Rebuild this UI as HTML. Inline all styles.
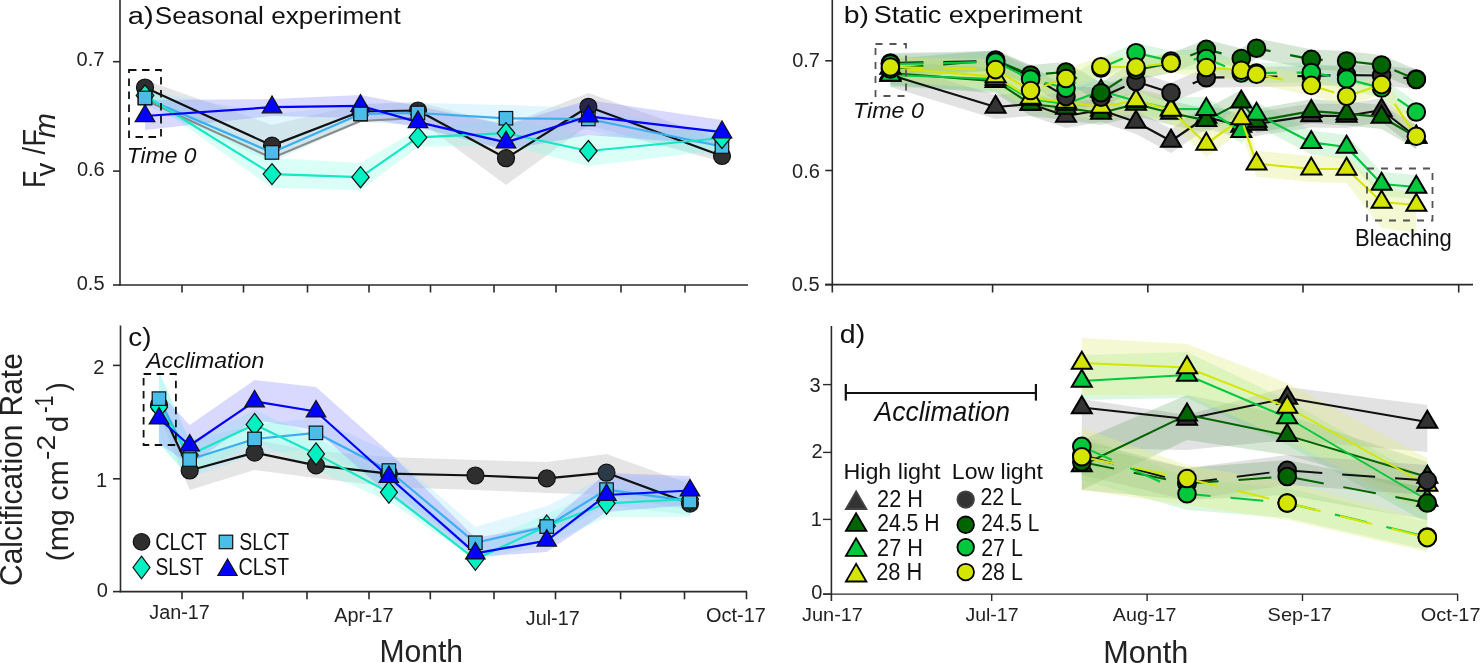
<!DOCTYPE html>
<html><head><meta charset="utf-8"><style>
html,body{margin:0;padding:0;background:#fff;width:1481px;height:663px;overflow:hidden}
svg{display:block;font-family:"Liberation Sans", sans-serif;will-change:transform}
</style></head><body>
<svg width="1481" height="663" viewBox="0 0 1481 663">
<rect width="1481" height="663" fill="#fff"/>
<polygon points="145.0,80.0 272.0,125.0 360.5,104.0 418.0,102.0 506.0,125.0 588.4,93.0 722.0,140.0 722.0,162.0 588.4,125.0 506.0,185.0 418.0,120.0 360.5,120.0 272.0,158.0 145.0,95.0" fill="#bdbdbd" fill-opacity="0.4"/>
<polygon points="145.0,90.0 272.0,114.0 360.5,105.0 418.0,103.0 506.0,105.0 588.4,108.0 722.0,135.0 722.0,158.0 588.4,130.0 506.0,130.0 418.0,125.0 360.5,122.0 272.0,162.0 145.0,105.0" fill="#a8e4fa" fill-opacity="0.35"/>
<polygon points="145.0,85.0 272.0,158.0 360.5,163.0 418.0,129.0 506.0,120.0 588.4,135.0 722.0,128.0 722.0,150.0 588.4,166.0 506.0,145.0 418.0,147.0 360.5,190.0 272.0,188.0 145.0,97.0" fill="#80ffe0" fill-opacity="0.3"/>
<polygon points="145.0,100.0 272.0,99.0 360.5,95.0 418.0,106.0 506.0,125.0 588.4,100.0 722.0,120.0 722.0,145.0 588.4,135.0 506.0,150.0 418.0,127.0 360.5,118.0 272.0,116.0 145.0,130.0" fill="#8f8fff" fill-opacity="0.34"/>
<polygon points="890.4,63.0 995.6,95.0 1030.6,92.0 1066.0,104.0 1101.0,98.0 1136.0,110.0 1171.0,129.0 1206.3,105.0 1241.3,114.0 1256.5,112.0 1311.3,103.6 1346.6,104.0 1381.6,98.0 1416.3,125.0 1416.3,149.0 1381.6,122.0 1346.6,128.0 1311.3,127.6 1256.5,136.0 1241.3,138.0 1206.3,129.0 1171.0,153.0 1136.0,134.0 1101.0,122.0 1066.0,128.0 1030.6,116.0 995.6,119.0 890.4,87.0" fill="#a0a0a0" fill-opacity="0.3"/>
<polygon points="890.4,61.0 995.6,69.2 1030.6,92.0 1066.0,96.0 1101.0,101.0 1136.0,92.0 1171.0,101.0 1206.3,108.4 1241.3,89.9 1256.5,109.0 1311.3,99.2 1346.6,101.6 1381.6,105.0 1416.3,125.0 1416.3,149.0 1381.6,129.0 1346.6,125.6 1311.3,123.2 1256.5,133.0 1241.3,113.9 1206.3,132.4 1171.0,125.0 1136.0,116.0 1101.0,125.0 1066.0,120.0 1030.6,116.0 995.6,93.2 890.4,85.0" fill="#3f8f3f" fill-opacity="0.22"/>
<polygon points="890.4,63.0 995.6,67.0 1030.6,87.0 1066.0,92.0 1101.0,79.0 1136.0,89.0 1171.0,97.0 1206.3,97.2 1241.3,119.2 1256.5,102.0 1311.3,130.4 1346.6,135.0 1381.6,172.0 1416.3,175.0 1416.3,199.0 1381.6,196.0 1346.6,159.0 1311.3,154.4 1256.5,126.0 1241.3,143.2 1206.3,121.2 1171.0,121.0 1136.0,113.0 1101.0,103.0 1066.0,116.0 1030.6,111.0 995.6,91.0 890.4,87.0" fill="#5fdc78" fill-opacity="0.22"/>
<polygon points="890.4,55.0 995.6,63.6 1030.6,85.0 1066.0,89.0 1101.0,94.0 1136.0,87.5 1171.0,97.0 1206.3,131.0 1241.3,105.5 1256.5,150.7 1311.3,155.9 1346.6,156.0 1381.6,189.0 1416.3,192.0 1416.3,233.0 1381.6,228.0 1346.6,183.0 1311.3,181.9 1256.5,176.7 1241.3,131.5 1206.3,157.0 1171.0,123.0 1136.0,113.5 1101.0,120.0 1066.0,115.0 1030.6,111.0 995.6,89.6 890.4,81.0" fill="#e2ee80" fill-opacity="0.35"/>
<polygon points="890.4,53.0 995.6,51.0 1030.6,66.0 1066.0,86.6 1101.0,87.3 1136.0,71.5 1171.0,82.8 1206.3,67.7 1311.3,66.0 1346.6,65.0 1381.6,65.5 1416.3,69.0 1416.3,89.0 1381.6,85.5 1346.6,85.0 1311.3,86.0 1206.3,87.7 1171.0,102.8 1136.0,91.5 1101.0,107.3 1066.0,106.6 1030.6,86.0 995.6,71.0 890.4,73.0" fill="#a0a0a0" fill-opacity="0.3"/>
<polygon points="890.4,59.0 995.6,50.0 1030.6,65.0 1066.0,62.0 1101.0,82.8 1136.0,60.0 1171.0,53.0 1206.3,39.4 1241.3,48.5 1256.5,38.3 1311.3,49.4 1346.6,51.0 1381.6,55.0 1416.3,69.5 1416.3,89.5 1381.6,75.0 1346.6,71.0 1311.3,69.4 1256.5,58.3 1241.3,68.5 1206.3,59.4 1171.0,73.0 1136.0,80.0 1101.0,102.8 1066.0,82.0 1030.6,85.0 995.6,70.0 890.4,79.0" fill="#3f8f3f" fill-opacity="0.22"/>
<polygon points="890.4,54.0 995.6,52.0 1030.6,69.0 1066.0,78.3 1101.0,58.0 1136.0,42.8 1171.0,51.0 1206.3,48.5 1241.3,63.0 1256.5,63.0 1311.3,62.5 1346.6,69.0 1381.6,78.0 1416.3,102.0 1416.3,122.0 1381.6,98.0 1346.6,89.0 1311.3,82.5 1256.5,83.0 1241.3,83.0 1206.3,68.5 1171.0,71.0 1136.0,62.8 1101.0,78.0 1066.0,98.3 1030.6,89.0 995.6,72.0 890.4,74.0" fill="#5fdc78" fill-opacity="0.22"/>
<polygon points="890.4,57.0 995.6,59.6 1030.6,80.5 1066.0,68.5 1101.0,56.8 1136.0,57.1 1171.0,53.0 1206.3,57.5 1241.3,60.2 1256.5,64.3 1311.3,75.4 1346.6,86.3 1381.6,74.6 1416.3,126.2 1416.3,146.2 1381.6,94.6 1346.6,106.3 1311.3,95.4 1256.5,84.3 1241.3,80.2 1206.3,77.5 1171.0,73.0 1136.0,77.1 1101.0,76.8 1066.0,88.5 1030.6,100.5 995.6,79.6 890.4,77.0" fill="#e2ee80" fill-opacity="0.35"/>
<polygon points="159.0,395.0 189.7,458.0 254.6,440.0 316.0,451.0 388.9,457.0 475.4,460.0 546.8,462.0 606.5,454.0 690.0,484.0 690.0,510.0 606.5,495.0 546.8,493.0 475.4,490.0 388.9,487.0 316.0,478.0 254.6,470.0 189.7,490.0 159.0,415.0" fill="#bdbdbd" fill-opacity="0.4"/>
<polygon points="159.0,372.0 189.7,440.0 254.6,425.0 316.0,418.0 388.9,452.0 475.4,527.0 546.8,506.0 606.5,476.0 690.0,479.0 690.0,515.0 606.5,505.0 546.8,540.0 475.4,555.0 388.9,487.0 316.0,448.0 254.6,455.0 189.7,478.0 159.0,443.0" fill="#a8e4fa" fill-opacity="0.35"/>
<polygon points="159.0,372.0 189.7,442.0 254.6,410.0 316.0,438.0 388.9,476.0 475.4,545.0 546.8,514.0 606.5,488.0 690.0,490.0 690.0,517.0 606.5,517.0 546.8,545.0 475.4,560.0 388.9,501.0 316.0,470.0 254.6,440.0 189.7,478.0 159.0,443.0" fill="#80ffe0" fill-opacity="0.3"/>
<polygon points="159.0,392.0 189.7,425.0 254.6,380.0 316.0,387.0 388.9,452.0 475.4,538.0 546.8,525.0 606.5,473.0 690.0,476.0 690.0,505.0 606.5,512.0 546.8,552.0 475.4,557.0 388.9,495.0 316.0,430.0 254.6,420.0 189.7,465.0 159.0,443.0" fill="#8f8fff" fill-opacity="0.34"/>
<polygon points="1081.8,399.0 1187.0,415.0 1287.2,387.0 1427.3,405.0 1427.3,452.0 1287.2,440.0 1187.0,450.0 1081.8,448.0" fill="#a0a0a0" fill-opacity="0.3"/>
<polygon points="1081.8,440.0 1187.0,395.0 1287.2,415.0 1427.3,462.0 1427.3,495.0 1287.2,455.0 1187.0,440.0 1081.8,490.0" fill="#3f8f3f" fill-opacity="0.22"/>
<polygon points="1081.8,355.0 1187.0,352.0 1287.2,400.0 1427.3,480.0 1427.3,523.0 1287.2,445.0 1187.0,398.0 1081.8,400.0" fill="#5fdc78" fill-opacity="0.22"/>
<polygon points="1081.8,338.0 1187.0,344.0 1287.2,383.0 1427.3,458.0 1427.3,515.0 1287.2,440.0 1187.0,395.0 1081.8,395.0" fill="#e2ee80" fill-opacity="0.35"/>
<polygon points="1081.8,445.0 1187.0,468.0 1287.2,455.0 1427.3,465.0 1427.3,495.0 1287.2,485.0 1187.0,500.0 1081.8,475.0" fill="#a0a0a0" fill-opacity="0.3"/>
<polygon points="1081.8,440.0 1187.0,468.0 1287.2,460.0 1427.3,488.0 1427.3,520.0 1287.2,495.0 1187.0,500.0 1081.8,490.0" fill="#3f8f3f" fill-opacity="0.22"/>
<polygon points="1081.8,435.0 1187.0,478.0 1287.2,488.0 1427.3,522.0 1427.3,550.0 1287.2,518.0 1187.0,510.0 1081.8,480.0" fill="#5fdc78" fill-opacity="0.22"/>
<polygon points="1081.8,428.0 1187.0,465.0 1287.2,482.0 1427.3,520.0 1427.3,552.0 1287.2,520.0 1187.0,505.0 1081.8,490.0" fill="#e2ee80" fill-opacity="0.35"/>
<polyline points="145.0,100.0 272.0,158.0 360.5,121.0 418.0,118.0" fill="none" stroke="#8a8a8a" stroke-width="2" stroke-linejoin="round"/>
<polyline points="145.0,87.5 272.0,145.6 360.5,111.5 418.0,110.5 506.0,158.2 588.4,106.8 722.0,156.0" fill="none" stroke="#111" stroke-width="2.2" stroke-linejoin="round"/>
<circle cx="145" cy="87.5" r="8.5" fill="#2e2e2e" stroke="#111" stroke-width="1.2"/>
<circle cx="272" cy="145.6" r="8.5" fill="#2e2e2e" stroke="#111" stroke-width="1.2"/>
<circle cx="360.5" cy="111.5" r="8.5" fill="#2e2e2e" stroke="#111" stroke-width="1.2"/>
<circle cx="418" cy="110.5" r="8.5" fill="#2e2e2e" stroke="#111" stroke-width="1.2"/>
<circle cx="506" cy="158.2" r="8.5" fill="#2e2e2e" stroke="#111" stroke-width="1.2"/>
<circle cx="588.4" cy="106.8" r="8.5" fill="#26264c" stroke="#111" stroke-width="1.2"/>
<circle cx="722" cy="156" r="8.5" fill="#2e2e2e" stroke="#111" stroke-width="1.2"/>
<polyline points="145.0,98.0 272.0,152.4 360.5,113.9 418.0,113.0 506.0,118.3 588.4,119.0 722.0,146.5" fill="none" stroke="#3aaef0" stroke-width="2.2" stroke-linejoin="round"/>
<rect x="138.2" y="91.2" width="13.5" height="13.5" fill="#4cbde9" stroke="#111" stroke-width="1.2"/>
<rect x="265.2" y="145.7" width="13.5" height="13.5" fill="#4cbde9" stroke="#111" stroke-width="1.2"/>
<rect x="353.8" y="107.2" width="13.5" height="13.5" fill="#4cbde9" stroke="#111" stroke-width="1.2"/>
<rect x="411.2" y="106.2" width="13.5" height="13.5" fill="#4cbde9" stroke="#111" stroke-width="1.2"/>
<rect x="499.2" y="111.5" width="13.5" height="13.5" fill="#4cbde9" stroke="#111" stroke-width="1.2"/>
<rect x="581.6" y="112.2" width="13.5" height="13.5" fill="#4cbde9" stroke="#111" stroke-width="1.2"/>
<rect x="715.2" y="139.8" width="13.5" height="13.5" fill="#4cbde9" stroke="#111" stroke-width="1.2"/>
<polyline points="145.0,95.5 272.0,174.1 360.5,177.2 418.0,137.4 506.0,133.1 588.4,151.0 722.0,138.0" fill="none" stroke="#14e8c4" stroke-width="2.2" stroke-linejoin="round"/>
<polygon points="145.0,85.0 153.8,95.5 145.0,106.0 136.2,95.5" fill="#00f2c3" stroke="#111" stroke-width="1.2"/>
<polygon points="272.0,163.6 280.8,174.1 272.0,184.6 263.2,174.1" fill="#00f2c3" stroke="#111" stroke-width="1.2"/>
<polygon points="360.5,166.7 369.2,177.2 360.5,187.7 351.8,177.2" fill="#00f2c3" stroke="#111" stroke-width="1.2"/>
<polygon points="418.0,126.9 426.8,137.4 418.0,147.9 409.2,137.4" fill="#00f2c3" stroke="#111" stroke-width="1.2"/>
<polygon points="506.0,122.6 514.8,133.1 506.0,143.6 497.2,133.1" fill="#00f2c3" stroke="#111" stroke-width="1.2"/>
<polygon points="588.4,140.5 597.1,151.0 588.4,161.5 579.6,151.0" fill="#00f2c3" stroke="#111" stroke-width="1.2"/>
<polygon points="722.0,127.5 730.8,138.0 722.0,148.5 713.2,138.0" fill="#00f2c3" stroke="#111" stroke-width="1.2"/>
<polyline points="145.0,116.0 272.0,107.2 360.5,105.8 418.0,122.1 506.0,142.4 588.4,116.3 722.0,132.2" fill="none" stroke="#0000ff" stroke-width="2.2" stroke-linejoin="round"/>
<polygon points="272.0,96.0 262.2,112.8 281.8,112.8" fill="#0000ff" stroke="#111" stroke-width="1.2" stroke-linejoin="miter"/>
<polygon points="360.5,94.6 350.8,111.4 370.2,111.4" fill="#0000ff" stroke="#111" stroke-width="1.2" stroke-linejoin="miter"/>
<polygon points="418.0,110.9 408.2,127.7 427.8,127.7" fill="#0000ff" stroke="#111" stroke-width="1.2" stroke-linejoin="miter"/>
<polygon points="506.0,131.2 496.2,148.0 515.8,148.0" fill="#0000ff" stroke="#111" stroke-width="1.2" stroke-linejoin="miter"/>
<polygon points="588.4,105.1 578.6,121.9 598.1,121.9" fill="#0000ff" stroke="#111" stroke-width="1.2" stroke-linejoin="miter"/>
<polygon points="722.0,121.0 712.2,137.8 731.8,137.8" fill="#0000ff" stroke="#111" stroke-width="1.2" stroke-linejoin="miter"/>
<rect x="138.2" y="91.2" width="13.5" height="13.5" fill="#4cbde9" stroke="#111" stroke-width="1.2"/>
<polygon points="145.0,104.8 135.2,121.6 154.8,121.6" fill="#0000ff" stroke="#111" stroke-width="1.2" stroke-linejoin="miter"/>
<rect x="353.8" y="107.2" width="13.5" height="13.5" fill="#4cbde9" stroke="#111" stroke-width="1.2"/>
<rect x="129" y="70" width="32" height="67" fill="none" stroke="#111" stroke-width="1.8" stroke-dasharray="7.5,5.5"/>
<text transform="translate(126.85,163.10) scale(1.0202,1)" font-size="22.4" fill="#111" font-style="italic">Time 0</text>
<line x1="120" y1="0" x2="120" y2="285.5" stroke="#2a2a2a" stroke-width="1.6" />
<line x1="119.2" y1="285" x2="748" y2="285" stroke="#2a2a2a" stroke-width="1.6" />
<line x1="113" y1="61.7" x2="120" y2="61.7" stroke="#2a2a2a" stroke-width="1.6" />
<text x="76.60" y="66.20" font-size="20" fill="#222">0.7</text>
<line x1="113" y1="171.1" x2="120" y2="171.1" stroke="#2a2a2a" stroke-width="1.6" />
<text x="76.88" y="176.30" font-size="20" fill="#222">0.6</text>
<line x1="113" y1="285" x2="120" y2="285" stroke="#2a2a2a" stroke-width="1.6" />
<text x="76.74" y="289.50" font-size="20" fill="#222">0.5</text>
<line x1="182" y1="285" x2="182" y2="292.5" stroke="#2a2a2a" stroke-width="1.6" />
<line x1="243.5" y1="285" x2="243.5" y2="292.5" stroke="#2a2a2a" stroke-width="1.6" />
<line x1="307.5" y1="285" x2="307.5" y2="292.5" stroke="#2a2a2a" stroke-width="1.6" />
<line x1="369" y1="285" x2="369" y2="292.5" stroke="#2a2a2a" stroke-width="1.6" />
<line x1="430.5" y1="285" x2="430.5" y2="292.5" stroke="#2a2a2a" stroke-width="1.6" />
<line x1="494" y1="285" x2="494" y2="292.5" stroke="#2a2a2a" stroke-width="1.6" />
<line x1="556" y1="285" x2="556" y2="292.5" stroke="#2a2a2a" stroke-width="1.6" />
<line x1="621" y1="285" x2="621" y2="292.5" stroke="#2a2a2a" stroke-width="1.6" />
<line x1="685" y1="285" x2="685" y2="292.5" stroke="#2a2a2a" stroke-width="1.6" />
<text transform="translate(127.86,23.90) scale(1.1912,1)" font-size="24.5" fill="#111">a)</text>
<text transform="translate(154.81,23.90) scale(1.0771,1)" font-size="24.3" fill="#111">Seasonal experiment</text>
<text transform="translate(44.90,188.18) rotate(-90) scale(0.9463,1)" font-size="30.7" fill="#222">F</text>
<text transform="translate(55.10,176.39) rotate(-90) scale(0.9710,1)" font-size="28.4" fill="#222">v</text>
<text transform="translate(44.60,154.60) rotate(-90) scale(0.8793,1)" font-size="30.7" fill="#222">/</text>
<text transform="translate(44.90,146.80) rotate(-90) scale(0.9530,1)" font-size="30.7" fill="#222">F</text>
<text transform="translate(55.10,138.10) rotate(-90) scale(1.0169,1)" font-size="29.5" fill="#222" font-style="italic">m</text>
<polyline points="890.4,75.0 995.6,107.0 1030.6,104.0 1066.0,116.0 1101.0,110.0 1136.0,122.0 1171.0,141.0 1206.3,117.0 1241.3,126.0 1256.5,124.0 1311.3,115.6 1346.6,116.0 1381.6,110.0 1416.3,137.0" fill="none" stroke="#111" stroke-width="2.2" stroke-linejoin="round"/>
<polygon points="890.4,63.7 880.4,80.7 900.4,80.7" fill="#333333" stroke="#000" stroke-width="2" stroke-linejoin="miter"/>
<polygon points="995.6,95.7 985.6,112.7 1005.6,112.7" fill="#333333" stroke="#000" stroke-width="2" stroke-linejoin="miter"/>
<polygon points="1030.6,92.7 1020.6,109.7 1040.6,109.7" fill="#333333" stroke="#000" stroke-width="2" stroke-linejoin="miter"/>
<polygon points="1066.0,104.7 1056.0,121.7 1076.0,121.7" fill="#333333" stroke="#000" stroke-width="2" stroke-linejoin="miter"/>
<polygon points="1101.0,98.7 1091.0,115.7 1111.0,115.7" fill="#333333" stroke="#000" stroke-width="2" stroke-linejoin="miter"/>
<polygon points="1136.0,110.7 1126.0,127.7 1146.0,127.7" fill="#333333" stroke="#000" stroke-width="2" stroke-linejoin="miter"/>
<polygon points="1171.0,129.7 1161.0,146.7 1181.0,146.7" fill="#333333" stroke="#000" stroke-width="2" stroke-linejoin="miter"/>
<polygon points="1206.3,105.7 1196.3,122.7 1216.3,122.7" fill="#333333" stroke="#000" stroke-width="2" stroke-linejoin="miter"/>
<polygon points="1241.3,114.7 1231.3,131.7 1251.3,131.7" fill="#333333" stroke="#000" stroke-width="2" stroke-linejoin="miter"/>
<polygon points="1256.5,112.7 1246.5,129.7 1266.5,129.7" fill="#333333" stroke="#000" stroke-width="2" stroke-linejoin="miter"/>
<polygon points="1311.3,104.3 1301.3,121.3 1321.3,121.3" fill="#333333" stroke="#000" stroke-width="2" stroke-linejoin="miter"/>
<polygon points="1346.6,104.7 1336.6,121.7 1356.6,121.7" fill="#333333" stroke="#000" stroke-width="2" stroke-linejoin="miter"/>
<polygon points="1381.6,98.7 1371.6,115.7 1391.6,115.7" fill="#333333" stroke="#000" stroke-width="2" stroke-linejoin="miter"/>
<polygon points="1416.3,125.7 1406.3,142.7 1426.3,142.7" fill="#333333" stroke="#000" stroke-width="2" stroke-linejoin="miter"/>
<polyline points="890.4,73.0 995.6,81.2 1030.6,104.0 1066.0,108.0 1101.0,113.0 1136.0,104.0 1171.0,113.0 1206.3,120.4 1241.3,101.9 1256.5,121.0 1311.3,111.2 1346.6,113.6 1381.6,117.0 1416.3,137.0" fill="none" stroke="#006400" stroke-width="2.2" stroke-linejoin="round"/>
<polygon points="890.4,61.7 880.4,78.7 900.4,78.7" fill="#006400" stroke="#000" stroke-width="2" stroke-linejoin="miter"/>
<polygon points="995.6,69.9 985.6,86.9 1005.6,86.9" fill="#006400" stroke="#000" stroke-width="2" stroke-linejoin="miter"/>
<polygon points="1030.6,92.7 1020.6,109.7 1040.6,109.7" fill="#006400" stroke="#000" stroke-width="2" stroke-linejoin="miter"/>
<polygon points="1066.0,96.7 1056.0,113.7 1076.0,113.7" fill="#006400" stroke="#000" stroke-width="2" stroke-linejoin="miter"/>
<polygon points="1101.0,101.7 1091.0,118.7 1111.0,118.7" fill="#006400" stroke="#000" stroke-width="2" stroke-linejoin="miter"/>
<polygon points="1136.0,92.7 1126.0,109.7 1146.0,109.7" fill="#006400" stroke="#000" stroke-width="2" stroke-linejoin="miter"/>
<polygon points="1171.0,101.7 1161.0,118.7 1181.0,118.7" fill="#006400" stroke="#000" stroke-width="2" stroke-linejoin="miter"/>
<polygon points="1206.3,109.1 1196.3,126.1 1216.3,126.1" fill="#006400" stroke="#000" stroke-width="2" stroke-linejoin="miter"/>
<polygon points="1241.3,90.6 1231.3,107.6 1251.3,107.6" fill="#006400" stroke="#000" stroke-width="2" stroke-linejoin="miter"/>
<polygon points="1256.5,109.7 1246.5,126.7 1266.5,126.7" fill="#006400" stroke="#000" stroke-width="2" stroke-linejoin="miter"/>
<polygon points="1311.3,99.9 1301.3,116.9 1321.3,116.9" fill="#006400" stroke="#000" stroke-width="2" stroke-linejoin="miter"/>
<polygon points="1346.6,102.3 1336.6,119.3 1356.6,119.3" fill="#006400" stroke="#000" stroke-width="2" stroke-linejoin="miter"/>
<polygon points="1381.6,105.7 1371.6,122.7 1391.6,122.7" fill="#006400" stroke="#000" stroke-width="2" stroke-linejoin="miter"/>
<polygon points="1416.3,125.7 1406.3,142.7 1426.3,142.7" fill="#006400" stroke="#000" stroke-width="2" stroke-linejoin="miter"/>
<polyline points="890.4,75.0 995.6,79.0 1030.6,99.0 1066.0,104.0 1101.0,91.0 1136.0,101.0 1171.0,109.0 1206.3,109.2 1241.3,131.2 1256.5,114.0 1311.3,142.4 1346.6,147.0 1381.6,184.0 1416.3,187.0" fill="none" stroke="#00c83c" stroke-width="2.2" stroke-linejoin="round"/>
<polygon points="890.4,63.7 880.4,80.7 900.4,80.7" fill="#00c83c" stroke="#000" stroke-width="2" stroke-linejoin="miter"/>
<polygon points="995.6,67.7 985.6,84.7 1005.6,84.7" fill="#00c83c" stroke="#000" stroke-width="2" stroke-linejoin="miter"/>
<polygon points="1030.6,87.7 1020.6,104.7 1040.6,104.7" fill="#00c83c" stroke="#000" stroke-width="2" stroke-linejoin="miter"/>
<polygon points="1066.0,92.7 1056.0,109.7 1076.0,109.7" fill="#00c83c" stroke="#000" stroke-width="2" stroke-linejoin="miter"/>
<polygon points="1101.0,79.7 1091.0,96.7 1111.0,96.7" fill="#00c83c" stroke="#000" stroke-width="2" stroke-linejoin="miter"/>
<polygon points="1136.0,89.7 1126.0,106.7 1146.0,106.7" fill="#00c83c" stroke="#000" stroke-width="2" stroke-linejoin="miter"/>
<polygon points="1171.0,97.7 1161.0,114.7 1181.0,114.7" fill="#00c83c" stroke="#000" stroke-width="2" stroke-linejoin="miter"/>
<polygon points="1206.3,97.9 1196.3,114.9 1216.3,114.9" fill="#00c83c" stroke="#000" stroke-width="2" stroke-linejoin="miter"/>
<polygon points="1241.3,119.9 1231.3,136.9 1251.3,136.9" fill="#00c83c" stroke="#000" stroke-width="2" stroke-linejoin="miter"/>
<polygon points="1256.5,102.7 1246.5,119.7 1266.5,119.7" fill="#00c83c" stroke="#000" stroke-width="2" stroke-linejoin="miter"/>
<polygon points="1311.3,131.1 1301.3,148.1 1321.3,148.1" fill="#00c83c" stroke="#000" stroke-width="2" stroke-linejoin="miter"/>
<polygon points="1346.6,135.7 1336.6,152.7 1356.6,152.7" fill="#00c83c" stroke="#000" stroke-width="2" stroke-linejoin="miter"/>
<polygon points="1381.6,172.7 1371.6,189.7 1391.6,189.7" fill="#00c83c" stroke="#000" stroke-width="2" stroke-linejoin="miter"/>
<polygon points="1416.3,175.7 1406.3,192.7 1426.3,192.7" fill="#00c83c" stroke="#000" stroke-width="2" stroke-linejoin="miter"/>
<polyline points="890.4,68.0 995.6,76.6 1030.6,98.0 1066.0,102.0 1101.0,107.0 1136.0,100.5 1171.0,110.0 1206.3,144.0 1241.3,118.5 1256.5,163.7 1311.3,168.9 1346.6,169.0 1381.6,202.0 1416.3,205.0" fill="none" stroke="#d4e600" stroke-width="2.2" stroke-linejoin="round"/>
<polygon points="890.4,56.7 880.4,73.7 900.4,73.7" fill="#d4e600" stroke="#000" stroke-width="2" stroke-linejoin="miter"/>
<polygon points="995.6,65.3 985.6,82.3 1005.6,82.3" fill="#d4e600" stroke="#000" stroke-width="2" stroke-linejoin="miter"/>
<polygon points="1030.6,86.7 1020.6,103.7 1040.6,103.7" fill="#d4e600" stroke="#000" stroke-width="2" stroke-linejoin="miter"/>
<polygon points="1066.0,90.7 1056.0,107.7 1076.0,107.7" fill="#d4e600" stroke="#000" stroke-width="2" stroke-linejoin="miter"/>
<polygon points="1101.0,95.7 1091.0,112.7 1111.0,112.7" fill="#d4e600" stroke="#000" stroke-width="2" stroke-linejoin="miter"/>
<polygon points="1136.0,89.2 1126.0,106.2 1146.0,106.2" fill="#d4e600" stroke="#000" stroke-width="2" stroke-linejoin="miter"/>
<polygon points="1171.0,98.7 1161.0,115.7 1181.0,115.7" fill="#d4e600" stroke="#000" stroke-width="2" stroke-linejoin="miter"/>
<polygon points="1206.3,132.7 1196.3,149.7 1216.3,149.7" fill="#d4e600" stroke="#000" stroke-width="2" stroke-linejoin="miter"/>
<polygon points="1241.3,107.2 1231.3,124.2 1251.3,124.2" fill="#d4e600" stroke="#000" stroke-width="2" stroke-linejoin="miter"/>
<polygon points="1256.5,152.4 1246.5,169.4 1266.5,169.4" fill="#d4e600" stroke="#000" stroke-width="2" stroke-linejoin="miter"/>
<polygon points="1311.3,157.6 1301.3,174.6 1321.3,174.6" fill="#d4e600" stroke="#000" stroke-width="2" stroke-linejoin="miter"/>
<polygon points="1346.6,157.7 1336.6,174.7 1356.6,174.7" fill="#d4e600" stroke="#000" stroke-width="2" stroke-linejoin="miter"/>
<polygon points="1381.6,190.7 1371.6,207.7 1391.6,207.7" fill="#d4e600" stroke="#000" stroke-width="2" stroke-linejoin="miter"/>
<polygon points="1416.3,193.7 1406.3,210.7 1426.3,210.7" fill="#d4e600" stroke="#000" stroke-width="2" stroke-linejoin="miter"/>
<polyline points="890.4,63.0 995.6,61.0 1030.6,76.0 1066.0,96.6 1101.0,97.3 1136.0,81.5 1171.0,92.8 1206.3,77.7 1311.3,76.0 1346.6,75.0 1381.6,75.5 1416.3,79.0" fill="none" stroke="#111" stroke-width="2.2" stroke-linejoin="round" stroke-dasharray="33,20"/>
<circle cx="890.4" cy="63" r="8.8" fill="#333333" stroke="#000" stroke-width="2"/>
<circle cx="995.6" cy="61" r="8.8" fill="#333333" stroke="#000" stroke-width="2"/>
<circle cx="1030.6" cy="76" r="8.8" fill="#333333" stroke="#000" stroke-width="2"/>
<circle cx="1066" cy="96.6" r="8.8" fill="#333333" stroke="#000" stroke-width="2"/>
<circle cx="1101" cy="97.3" r="8.8" fill="#333333" stroke="#000" stroke-width="2"/>
<circle cx="1136" cy="81.5" r="8.8" fill="#333333" stroke="#000" stroke-width="2"/>
<circle cx="1171" cy="92.8" r="8.8" fill="#333333" stroke="#000" stroke-width="2"/>
<circle cx="1206.3" cy="77.7" r="8.8" fill="#333333" stroke="#000" stroke-width="2"/>
<circle cx="1311.3" cy="76" r="8.8" fill="#333333" stroke="#000" stroke-width="2"/>
<circle cx="1346.6" cy="75" r="8.8" fill="#333333" stroke="#000" stroke-width="2"/>
<circle cx="1381.6" cy="75.5" r="8.8" fill="#333333" stroke="#000" stroke-width="2"/>
<circle cx="1416.3" cy="79" r="8.8" fill="#333333" stroke="#000" stroke-width="2"/>
<polyline points="890.4,69.0 995.6,60.0 1030.6,75.0 1066.0,72.0 1101.0,92.8 1136.0,70.0 1171.0,63.0 1206.3,49.4 1241.3,58.5 1256.5,48.3 1311.3,59.4 1346.6,61.0 1381.6,65.0 1416.3,79.5" fill="none" stroke="#006400" stroke-width="2.2" stroke-linejoin="round" stroke-dasharray="33,20"/>
<circle cx="890.4" cy="69" r="8.8" fill="#006400" stroke="#000" stroke-width="2"/>
<circle cx="995.6" cy="60" r="8.8" fill="#006400" stroke="#000" stroke-width="2"/>
<circle cx="1030.6" cy="75" r="8.8" fill="#006400" stroke="#000" stroke-width="2"/>
<circle cx="1066" cy="72" r="8.8" fill="#006400" stroke="#000" stroke-width="2"/>
<circle cx="1101" cy="92.8" r="8.8" fill="#006400" stroke="#000" stroke-width="2"/>
<circle cx="1136" cy="70" r="8.8" fill="#006400" stroke="#000" stroke-width="2"/>
<circle cx="1171" cy="63" r="8.8" fill="#006400" stroke="#000" stroke-width="2"/>
<circle cx="1206.3" cy="49.4" r="8.8" fill="#006400" stroke="#000" stroke-width="2"/>
<circle cx="1241.3" cy="58.5" r="8.8" fill="#006400" stroke="#000" stroke-width="2"/>
<circle cx="1256.5" cy="48.3" r="8.8" fill="#006400" stroke="#000" stroke-width="2"/>
<circle cx="1311.3" cy="59.4" r="8.8" fill="#006400" stroke="#000" stroke-width="2"/>
<circle cx="1346.6" cy="61" r="8.8" fill="#006400" stroke="#000" stroke-width="2"/>
<circle cx="1381.6" cy="65" r="8.8" fill="#006400" stroke="#000" stroke-width="2"/>
<circle cx="1416.3" cy="79.5" r="8.8" fill="#006400" stroke="#000" stroke-width="2"/>
<polyline points="890.4,64.0 995.6,62.0 1030.6,79.0 1066.0,88.3 1101.0,68.0 1136.0,52.8 1171.0,61.0 1206.3,58.5 1241.3,73.0 1256.5,73.0 1311.3,72.5 1346.6,79.0 1381.6,88.0 1416.3,112.0" fill="none" stroke="#00c83c" stroke-width="2.2" stroke-linejoin="round" stroke-dasharray="33,20"/>
<circle cx="890.4" cy="64" r="8.8" fill="#00c83c" stroke="#000" stroke-width="2"/>
<circle cx="995.6" cy="62" r="8.8" fill="#00c83c" stroke="#000" stroke-width="2"/>
<circle cx="1030.6" cy="79" r="8.8" fill="#00c83c" stroke="#000" stroke-width="2"/>
<circle cx="1066" cy="88.3" r="8.8" fill="#00c83c" stroke="#000" stroke-width="2"/>
<circle cx="1101" cy="68" r="8.8" fill="#00c83c" stroke="#000" stroke-width="2"/>
<circle cx="1136" cy="52.8" r="8.8" fill="#00c83c" stroke="#000" stroke-width="2"/>
<circle cx="1171" cy="61" r="8.8" fill="#00c83c" stroke="#000" stroke-width="2"/>
<circle cx="1206.3" cy="58.5" r="8.8" fill="#00c83c" stroke="#000" stroke-width="2"/>
<circle cx="1241.3" cy="73" r="8.8" fill="#00c83c" stroke="#000" stroke-width="2"/>
<circle cx="1256.5" cy="73" r="8.8" fill="#00c83c" stroke="#000" stroke-width="2"/>
<circle cx="1311.3" cy="72.5" r="8.8" fill="#00c83c" stroke="#000" stroke-width="2"/>
<circle cx="1346.6" cy="79" r="8.8" fill="#00c83c" stroke="#000" stroke-width="2"/>
<circle cx="1381.6" cy="88" r="8.8" fill="#00c83c" stroke="#000" stroke-width="2"/>
<circle cx="1416.3" cy="112" r="8.8" fill="#00c83c" stroke="#000" stroke-width="2"/>
<polyline points="890.4,67.0 995.6,69.6 1030.6,90.5 1066.0,78.5 1101.0,66.8 1136.0,67.1 1171.0,63.0 1206.3,67.5 1241.3,70.2 1256.5,74.3 1311.3,85.4 1346.6,96.3 1381.6,84.6 1416.3,136.2" fill="none" stroke="#d4e600" stroke-width="2.2" stroke-linejoin="round" stroke-dasharray="33,20"/>
<circle cx="890.4" cy="67" r="8.8" fill="#d4e600" stroke="#000" stroke-width="2"/>
<circle cx="995.6" cy="69.6" r="8.8" fill="#d4e600" stroke="#000" stroke-width="2"/>
<circle cx="1030.6" cy="90.5" r="8.8" fill="#d4e600" stroke="#000" stroke-width="2"/>
<circle cx="1066" cy="78.5" r="8.8" fill="#d4e600" stroke="#000" stroke-width="2"/>
<circle cx="1101" cy="66.8" r="8.8" fill="#d4e600" stroke="#000" stroke-width="2"/>
<circle cx="1136" cy="67.1" r="8.8" fill="#d4e600" stroke="#000" stroke-width="2"/>
<circle cx="1171" cy="63" r="8.8" fill="#d4e600" stroke="#000" stroke-width="2"/>
<circle cx="1206.3" cy="67.5" r="8.8" fill="#d4e600" stroke="#000" stroke-width="2"/>
<circle cx="1241.3" cy="70.2" r="8.8" fill="#d4e600" stroke="#000" stroke-width="2"/>
<circle cx="1256.5" cy="74.3" r="8.8" fill="#d4e600" stroke="#000" stroke-width="2"/>
<circle cx="1311.3" cy="85.4" r="8.8" fill="#d4e600" stroke="#000" stroke-width="2"/>
<circle cx="1346.6" cy="96.3" r="8.8" fill="#d4e600" stroke="#000" stroke-width="2"/>
<circle cx="1381.6" cy="84.6" r="8.8" fill="#d4e600" stroke="#000" stroke-width="2"/>
<circle cx="1416.3" cy="136.2" r="8.8" fill="#d4e600" stroke="#000" stroke-width="2"/>
<rect x="875.5" y="44" width="30.5" height="52" fill="none" stroke="#555" stroke-width="1.8" stroke-dasharray="7,7"/>
<rect x="1367" y="168.5" width="65.5" height="52" fill="none" stroke="#555" stroke-width="1.8" stroke-dasharray="7,7"/>
<text transform="translate(853.11,118.30) scale(1.0368,1)" font-size="22.4" fill="#111" font-style="italic">Time 0</text>
<text transform="translate(1354.99,245.60) scale(0.9292,1)" font-size="23.7" fill="#111">Bleaching</text>
<line x1="832.3" y1="0" x2="832.3" y2="285.5" stroke="#2a2a2a" stroke-width="1.6" />
<line x1="825" y1="284.6" x2="1473" y2="284.6" stroke="#2a2a2a" stroke-width="1.6" />
<line x1="825.3" y1="60.8" x2="832.3" y2="60.8" stroke="#2a2a2a" stroke-width="1.6" />
<text x="792.20" y="66.50" font-size="20" fill="#222">0.7</text>
<line x1="825.3" y1="170.5" x2="832.3" y2="170.5" stroke="#2a2a2a" stroke-width="1.6" />
<text x="792.08" y="178.30" font-size="20" fill="#222">0.6</text>
<line x1="825.3" y1="284.6" x2="832.3" y2="284.6" stroke="#2a2a2a" stroke-width="1.6" />
<text x="791.74" y="291.20" font-size="20" fill="#222">0.5</text>
<line x1="832.3" y1="284.6" x2="832.3" y2="292.5" stroke="#2a2a2a" stroke-width="1.6" />
<line x1="992.6" y1="284.6" x2="992.6" y2="292.5" stroke="#2a2a2a" stroke-width="1.6" />
<line x1="1147.8" y1="284.6" x2="1147.8" y2="292.5" stroke="#2a2a2a" stroke-width="1.6" />
<line x1="1303" y1="284.6" x2="1303" y2="292.5" stroke="#2a2a2a" stroke-width="1.6" />
<line x1="1458.7" y1="284.6" x2="1458.7" y2="292.5" stroke="#2a2a2a" stroke-width="1.6" />
<text transform="translate(843.77,22.80) scale(1.1559,1)" font-size="24.5" fill="#111">b)</text>
<text transform="translate(873.87,23.20) scale(1.1113,1)" font-size="24.3" fill="#111">Static experiment</text>
<polyline points="159.0,404.9 189.7,470.5 254.6,452.6 316.0,465.4 388.9,473.6 475.4,475.5 546.8,478.4 606.5,472.7 690.0,503.6" fill="none" stroke="#111" stroke-width="2.2" stroke-linejoin="round"/>
<polyline points="159.0,398.7 189.7,459.5 254.6,439.0 316.0,432.8 388.9,470.5 475.4,542.8 546.8,526.5 606.5,489.6 690.0,501.2" fill="none" stroke="#3aaef0" stroke-width="2.2" stroke-linejoin="round"/>
<polyline points="159.0,407.0 189.7,455.0 254.6,424.4 316.0,453.9 388.9,492.3 475.4,559.3 546.8,526.0 606.5,503.3 690.0,499.0" fill="none" stroke="#14e8c4" stroke-width="2.2" stroke-linejoin="round"/>
<polyline points="159.0,418.5 189.7,445.5 254.6,401.3 316.0,411.5 388.9,477.0 475.4,553.4 546.8,540.6 606.5,495.0 690.0,490.5" fill="none" stroke="#0000ff" stroke-width="2.2" stroke-linejoin="round"/>
<circle cx="159" cy="404.9" r="8.5" fill="#2e2e2e" stroke="#111" stroke-width="1.2"/>
<circle cx="189.7" cy="470.5" r="8.5" fill="#2e2e2e" stroke="#111" stroke-width="1.2"/>
<circle cx="254.6" cy="452.6" r="8.5" fill="#2e2e2e" stroke="#111" stroke-width="1.2"/>
<circle cx="316" cy="465.4" r="8.5" fill="#2e2e2e" stroke="#111" stroke-width="1.2"/>
<circle cx="388.9" cy="473.6" r="8.5" fill="#2e2e2e" stroke="#111" stroke-width="1.2"/>
<circle cx="475.4" cy="475.5" r="8.5" fill="#2e2e2e" stroke="#111" stroke-width="1.2"/>
<circle cx="546.8" cy="478.4" r="8.5" fill="#2e2e2e" stroke="#111" stroke-width="1.2"/>
<circle cx="606.5" cy="472.7" r="8.5" fill="#2c3a48" stroke="#111" stroke-width="1.2"/>
<circle cx="690" cy="503.6" r="8.5" fill="#2e2e2e" stroke="#111" stroke-width="1.2"/>
<polygon points="159.0,396.0 167.5,407.0 159.0,418.0 150.5,407.0" fill="#00f2c3" stroke="#111" stroke-width="1.2"/>
<polygon points="189.7,444.0 198.2,455.0 189.7,466.0 181.2,455.0" fill="#00f2c3" stroke="#111" stroke-width="1.2"/>
<polygon points="254.6,413.4 263.1,424.4 254.6,435.4 246.1,424.4" fill="#00f2c3" stroke="#111" stroke-width="1.2"/>
<polygon points="316.0,442.9 324.5,453.9 316.0,464.9 307.5,453.9" fill="#00f2c3" stroke="#111" stroke-width="1.2"/>
<polygon points="388.9,481.3 397.4,492.3 388.9,503.3 380.4,492.3" fill="#00f2c3" stroke="#111" stroke-width="1.2"/>
<polygon points="475.4,548.3 483.9,559.3 475.4,570.3 466.9,559.3" fill="#00f2c3" stroke="#111" stroke-width="1.2"/>
<polygon points="546.8,515.0 555.3,526.0 546.8,537.0 538.3,526.0" fill="#00f2c3" stroke="#111" stroke-width="1.2"/>
<polygon points="606.5,492.3 615.0,503.3 606.5,514.3 598.0,503.3" fill="#00f2c3" stroke="#111" stroke-width="1.2"/>
<polygon points="690.0,488.0 698.5,499.0 690.0,510.0 681.5,499.0" fill="#00f2c3" stroke="#111" stroke-width="1.2"/>
<rect x="152.2" y="391.9" width="13.5" height="13.5" fill="#4cbde9" stroke="#111" stroke-width="1.2"/>
<rect x="182.9" y="452.8" width="13.5" height="13.5" fill="#4cbde9" stroke="#111" stroke-width="1.2"/>
<rect x="247.8" y="432.2" width="13.5" height="13.5" fill="#4cbde9" stroke="#111" stroke-width="1.2"/>
<rect x="309.2" y="426.1" width="13.5" height="13.5" fill="#4cbde9" stroke="#111" stroke-width="1.2"/>
<rect x="382.1" y="463.8" width="13.5" height="13.5" fill="#4cbde9" stroke="#111" stroke-width="1.2"/>
<rect x="468.6" y="536.0" width="13.5" height="13.5" fill="#4cbde9" stroke="#111" stroke-width="1.2"/>
<rect x="540.0" y="519.8" width="13.5" height="13.5" fill="#4cbde9" stroke="#111" stroke-width="1.2"/>
<rect x="599.8" y="482.9" width="13.5" height="13.5" fill="#4cbde9" stroke="#111" stroke-width="1.2"/>
<rect x="683.2" y="494.4" width="13.5" height="13.5" fill="#4cbde9" stroke="#111" stroke-width="1.2"/>
<polygon points="159.0,407.5 149.2,424.0 168.8,424.0" fill="#0000ff" stroke="#111" stroke-width="1.2" stroke-linejoin="miter"/>
<polygon points="189.7,434.5 179.9,451.0 199.4,451.0" fill="#0000ff" stroke="#111" stroke-width="1.2" stroke-linejoin="miter"/>
<polygon points="254.6,390.3 244.8,406.8 264.4,406.8" fill="#0000ff" stroke="#111" stroke-width="1.2" stroke-linejoin="miter"/>
<polygon points="316.0,400.5 306.2,417.0 325.8,417.0" fill="#0000ff" stroke="#111" stroke-width="1.2" stroke-linejoin="miter"/>
<polygon points="388.9,466.0 379.1,482.5 398.6,482.5" fill="#0000ff" stroke="#111" stroke-width="1.2" stroke-linejoin="miter"/>
<polygon points="475.4,542.4 465.6,558.9 485.1,558.9" fill="#0000ff" stroke="#111" stroke-width="1.2" stroke-linejoin="miter"/>
<polygon points="546.8,529.6 537.0,546.1 556.5,546.1" fill="#0000ff" stroke="#111" stroke-width="1.2" stroke-linejoin="miter"/>
<polygon points="606.5,484.0 596.8,500.5 616.2,500.5" fill="#0000ff" stroke="#111" stroke-width="1.2" stroke-linejoin="miter"/>
<polygon points="690.0,479.5 680.2,496.0 699.8,496.0" fill="#0000ff" stroke="#111" stroke-width="1.2" stroke-linejoin="miter"/>
<rect x="143.6" y="374" width="32.3" height="71" fill="none" stroke="#111" stroke-width="1.8" stroke-dasharray="7.5,5.5"/>
<text transform="translate(146.24,367.70) scale(1.0123,1)" font-size="22.8" fill="#111" font-style="italic">Acclimation</text>
<text transform="translate(128.32,346.10) scale(1.0874,1)" font-size="25.5" fill="#111">c)</text>
<line x1="120.5" y1="325.5" x2="120.5" y2="592.3" stroke="#2a2a2a" stroke-width="1.6" />
<line x1="119.7" y1="591.6" x2="747" y2="591.6" stroke="#2a2a2a" stroke-width="1.6" />
<line x1="113" y1="365.4" x2="120.5" y2="365.4" stroke="#2a2a2a" stroke-width="1.6" />
<text x="93.18" y="373.50" font-size="20" fill="#222">2</text>
<line x1="113" y1="478.8" x2="120.5" y2="478.8" stroke="#2a2a2a" stroke-width="1.6" />
<text x="96.05" y="486.80" font-size="20" fill="#222">1</text>
<line x1="113" y1="591.6" x2="120.5" y2="591.6" stroke="#2a2a2a" stroke-width="1.6" />
<text x="96.86" y="597.00" font-size="20" fill="#222">0</text>
<line x1="182" y1="591.6" x2="182" y2="599.3" stroke="#2a2a2a" stroke-width="1.6" />
<line x1="243" y1="591.6" x2="243" y2="599.3" stroke="#2a2a2a" stroke-width="1.6" />
<line x1="307" y1="591.6" x2="307" y2="599.3" stroke="#2a2a2a" stroke-width="1.6" />
<line x1="369" y1="591.6" x2="369" y2="599.3" stroke="#2a2a2a" stroke-width="1.6" />
<line x1="430.3" y1="591.6" x2="430.3" y2="599.3" stroke="#2a2a2a" stroke-width="1.6" />
<line x1="494" y1="591.6" x2="494" y2="599.3" stroke="#2a2a2a" stroke-width="1.6" />
<line x1="555.5" y1="591.6" x2="555.5" y2="599.3" stroke="#2a2a2a" stroke-width="1.6" />
<line x1="620.6" y1="591.6" x2="620.6" y2="599.3" stroke="#2a2a2a" stroke-width="1.6" />
<line x1="684.5" y1="591.6" x2="684.5" y2="599.3" stroke="#2a2a2a" stroke-width="1.6" />
<line x1="746.5" y1="591.6" x2="746.5" y2="599.3" stroke="#2a2a2a" stroke-width="1.6" />
<text transform="translate(149.29,619.20) scale(0.9423,1)" font-size="21" fill="#222">Jan-17</text>
<text transform="translate(334.16,621.90) scale(0.9446,1)" font-size="21" fill="#222">Apr-17</text>
<text transform="translate(525.79,625.00) scale(0.9442,1)" font-size="21" fill="#222">Jul-17</text>
<text transform="translate(706.06,621.90) scale(0.9497,1)" font-size="21" fill="#222">Oct-17</text>
<text transform="translate(379.43,662.30) scale(0.9706,1)" font-size="31" fill="#222">Month</text>
<circle cx="141.5" cy="541.8" r="8.3" fill="#2e2e2e" stroke="#111" stroke-width="1.2"/>
<text transform="translate(155.30,549.80) scale(0.8347,1)" font-size="23.7" fill="#111">CLCT</text>
<rect x="219.2" y="535.2" width="13.5" height="13.5" fill="#4cbde9" stroke="#111" stroke-width="1.2"/>
<text transform="translate(239.31,549.80) scale(0.8226,1)" font-size="23.7" fill="#111">SLCT</text>
<polygon points="141.5,556.2 150.0,567.5 141.5,578.8 133.0,567.5" fill="#00f2c3" stroke="#111" stroke-width="1.2"/>
<text transform="translate(155.43,574.90) scale(0.8100,1)" font-size="23.7" fill="#111">SLST</text>
<polygon points="227.5,559.0 217.9,575.5 237.1,575.5" fill="#0000ff" stroke="#111" stroke-width="1.2" stroke-linejoin="miter"/>
<text transform="translate(238.60,574.90) scale(0.8346,1)" font-size="23.7" fill="#111">CLST</text>
<text transform="translate(21.70,585.92) rotate(-90) scale(0.9649,1)" font-size="31" fill="#222">Calcification Rate</text>
<text transform="translate(68.00,561.48) rotate(-90) scale(1.0130,1)" font-size="30" fill="#222">(mg cm</text>
<text transform="translate(54.60,459.95) rotate(-90) scale(1.0680,1)" font-size="26.4" fill="#222">-2</text>
<text transform="translate(68.00,432.14) rotate(-90) scale(0.9858,1)" font-size="30" fill="#222">d</text>
<text transform="translate(52.50,413.08) rotate(-90) scale(0.7706,1)" font-size="25.6" fill="#222">-1</text>
<text transform="translate(68.00,391.25) rotate(-90) scale(0.8800,1)" font-size="30" fill="#222">)</text>
<polyline points="1081.8,407.5 1187.0,419.0 1287.2,398.0 1427.3,422.0" fill="none" stroke="#111" stroke-width="2" stroke-linejoin="round"/>
<polygon points="1081.8,396.2 1071.8,413.2 1091.8,413.2" fill="#333333" stroke="#000" stroke-width="2" stroke-linejoin="miter"/>
<polygon points="1187.0,407.7 1177.0,424.7 1197.0,424.7" fill="#333333" stroke="#000" stroke-width="2" stroke-linejoin="miter"/>
<polygon points="1287.2,386.7 1277.2,403.7 1297.2,403.7" fill="#333333" stroke="#000" stroke-width="2" stroke-linejoin="miter"/>
<polygon points="1427.3,410.7 1417.3,427.7 1437.3,427.7" fill="#333333" stroke="#000" stroke-width="2" stroke-linejoin="miter"/>
<polyline points="1081.8,465.5 1187.0,414.8 1287.2,435.4 1427.3,477.0" fill="none" stroke="#006400" stroke-width="2" stroke-linejoin="round"/>
<polygon points="1081.8,454.2 1071.8,471.2 1091.8,471.2" fill="#006400" stroke="#000" stroke-width="2" stroke-linejoin="miter"/>
<polygon points="1187.0,403.5 1177.0,420.5 1197.0,420.5" fill="#006400" stroke="#000" stroke-width="2" stroke-linejoin="miter"/>
<polygon points="1287.2,424.1 1277.2,441.1 1297.2,441.1" fill="#006400" stroke="#000" stroke-width="2" stroke-linejoin="miter"/>
<polygon points="1427.3,465.7 1417.3,482.7 1437.3,482.7" fill="#006400" stroke="#000" stroke-width="2" stroke-linejoin="miter"/>
<polyline points="1081.8,381.0 1187.0,375.0 1287.2,417.5 1427.3,500.0" fill="none" stroke="#00c83c" stroke-width="2" stroke-linejoin="round"/>
<polygon points="1081.8,369.7 1071.8,386.7 1091.8,386.7" fill="#00c83c" stroke="#000" stroke-width="2" stroke-linejoin="miter"/>
<polygon points="1187.0,363.7 1177.0,380.7 1197.0,380.7" fill="#00c83c" stroke="#000" stroke-width="2" stroke-linejoin="miter"/>
<polygon points="1287.2,406.2 1277.2,423.2 1297.2,423.2" fill="#00c83c" stroke="#000" stroke-width="2" stroke-linejoin="miter"/>
<polygon points="1427.3,488.7 1417.3,505.7 1437.3,505.7" fill="#00c83c" stroke="#000" stroke-width="2" stroke-linejoin="miter"/>
<polyline points="1081.8,363.0 1187.0,367.5 1287.2,407.0 1427.3,485.0" fill="none" stroke="#d4e600" stroke-width="2" stroke-linejoin="round"/>
<polygon points="1081.8,351.7 1071.8,368.7 1091.8,368.7" fill="#d4e600" stroke="#000" stroke-width="2" stroke-linejoin="miter"/>
<polygon points="1187.0,356.2 1177.0,373.2 1197.0,373.2" fill="#d4e600" stroke="#000" stroke-width="2" stroke-linejoin="miter"/>
<polygon points="1287.2,395.7 1277.2,412.7 1297.2,412.7" fill="#d4e600" stroke="#000" stroke-width="2" stroke-linejoin="miter"/>
<polygon points="1427.3,473.7 1417.3,490.7 1437.3,490.7" fill="#d4e600" stroke="#000" stroke-width="2" stroke-linejoin="miter"/>
<polyline points="1081.8,455.0 1187.0,483.0 1287.2,470.4 1427.3,480.6" fill="none" stroke="#111" stroke-width="2" stroke-linejoin="round" stroke-dasharray="33,20"/>
<circle cx="1081.8" cy="455" r="8.8" fill="#333333" stroke="#000" stroke-width="2"/>
<circle cx="1187" cy="483" r="8.8" fill="#333333" stroke="#000" stroke-width="2"/>
<circle cx="1287.2" cy="470.4" r="8.8" fill="#333333" stroke="#000" stroke-width="2"/>
<circle cx="1427.3" cy="480.6" r="8.8" fill="#333333" stroke="#000" stroke-width="2"/>
<polyline points="1081.8,462.0 1187.0,483.6 1287.2,476.5 1427.3,503.0" fill="none" stroke="#006400" stroke-width="2" stroke-linejoin="round" stroke-dasharray="33,20"/>
<circle cx="1081.8" cy="462" r="8.8" fill="#006400" stroke="#000" stroke-width="2"/>
<circle cx="1187" cy="483.6" r="8.8" fill="#006400" stroke="#000" stroke-width="2"/>
<circle cx="1287.2" cy="476.5" r="8.8" fill="#006400" stroke="#000" stroke-width="2"/>
<circle cx="1427.3" cy="503" r="8.8" fill="#006400" stroke="#000" stroke-width="2"/>
<polyline points="1081.8,446.4 1187.0,493.8 1287.2,503.0 1427.3,537.0" fill="none" stroke="#00c83c" stroke-width="2" stroke-linejoin="round" stroke-dasharray="33,20"/>
<circle cx="1081.8" cy="446.4" r="8.8" fill="#00c83c" stroke="#000" stroke-width="2"/>
<circle cx="1187" cy="493.8" r="8.8" fill="#00c83c" stroke="#000" stroke-width="2"/>
<circle cx="1287.2" cy="503" r="8.8" fill="#00c83c" stroke="#000" stroke-width="2"/>
<circle cx="1427.3" cy="537" r="8.8" fill="#00c83c" stroke="#000" stroke-width="2"/>
<polyline points="1081.8,456.7 1187.0,478.5 1287.2,503.0 1427.3,537.6" fill="none" stroke="#d4e600" stroke-width="2" stroke-linejoin="round" stroke-dasharray="33,20"/>
<circle cx="1081.8" cy="456.7" r="8.8" fill="#d4e600" stroke="#000" stroke-width="2"/>
<circle cx="1187" cy="478.5" r="8.8" fill="#d4e600" stroke="#000" stroke-width="2"/>
<circle cx="1287.2" cy="503" r="8.8" fill="#d4e600" stroke="#000" stroke-width="2"/>
<circle cx="1427.3" cy="537.6" r="8.8" fill="#d4e600" stroke="#000" stroke-width="2"/>
<line x1="831.4" y1="325.9" x2="831.4" y2="601" stroke="#2a2a2a" stroke-width="1.6" />
<line x1="823" y1="594.1" x2="1458" y2="594.1" stroke="#2a2a2a" stroke-width="1.4" />
<line x1="823" y1="384.6" x2="831.4" y2="384.6" stroke="#2a2a2a" stroke-width="1.4" />
<text x="809.46" y="392.10" font-size="20" fill="#222">3</text>
<line x1="823" y1="452.4" x2="831.4" y2="452.4" stroke="#2a2a2a" stroke-width="1.4" />
<text x="811.58" y="457.60" font-size="20" fill="#222">2</text>
<line x1="823" y1="519.4" x2="831.4" y2="519.4" stroke="#2a2a2a" stroke-width="1.4" />
<text x="810.85" y="525.70" font-size="20" fill="#222">1</text>
<line x1="823" y1="594.1" x2="831.4" y2="594.1" stroke="#2a2a2a" stroke-width="1.4" />
<text x="811.16" y="598.50" font-size="20" fill="#222">0</text>
<line x1="991.7" y1="594.1" x2="991.7" y2="601" stroke="#2a2a2a" stroke-width="1.4" />
<line x1="1147.1" y1="594.1" x2="1147.1" y2="601" stroke="#2a2a2a" stroke-width="1.4" />
<line x1="1302.5" y1="594.1" x2="1302.5" y2="601" stroke="#2a2a2a" stroke-width="1.4" />
<line x1="1457.6" y1="594.1" x2="1457.6" y2="601" stroke="#2a2a2a" stroke-width="1.4" />
<text transform="translate(801.99,621.20) scale(1.0503,1)" font-size="19" fill="#222">Jun-17</text>
<text transform="translate(965.39,621.20) scale(1.0278,1)" font-size="19" fill="#222">Jul-17</text>
<text transform="translate(1112.86,621.20) scale(1.0369,1)" font-size="19" fill="#222">Aug-17</text>
<text transform="translate(1267.60,621.20) scale(1.0480,1)" font-size="19" fill="#222">Sep-17</text>
<text transform="translate(1420.66,621.20) scale(1.0496,1)" font-size="19" fill="#222">Oct-17</text>
<text transform="translate(1103.19,663.00) scale(0.9865,1)" font-size="31" fill="#222">Month</text>
<text transform="translate(839.80,342.80) scale(1.1015,1)" font-size="25.9" fill="#111">d)</text>
<line x1="845.8" y1="393" x2="1035.9" y2="393" stroke="#111" stroke-width="2.2" />
<line x1="845.8" y1="384" x2="845.8" y2="400.6" stroke="#111" stroke-width="2.2" />
<line x1="1035.9" y1="384" x2="1035.9" y2="400.6" stroke="#111" stroke-width="2.2" />
<text transform="translate(874.51,420.70) scale(0.9823,1)" font-size="27" fill="#111" font-style="italic">Acclimation</text>
<text transform="translate(843.39,479.20) scale(1.0361,1)" font-size="22.5" fill="#111">High light</text>
<text transform="translate(951.81,479.20) scale(1.0266,1)" font-size="22.5" fill="#111">Low light</text>
<polygon points="856.1,491.4 845.9,509.0 866.4,509.0" fill="#333333" stroke="#444" stroke-width="1.8" stroke-linejoin="miter"/>
<text transform="translate(877.11,507.40) scale(0.9462,1)" font-size="23" fill="#111">22 H</text>
<polygon points="856.1,513.3 845.9,530.9 866.4,530.9" fill="#006400" stroke="#000" stroke-width="1.8" stroke-linejoin="miter"/>
<text transform="translate(877.13,530.60) scale(0.9223,1)" font-size="23" fill="#111">24.5 H</text>
<polygon points="856.1,538.2 845.9,555.8 866.4,555.8" fill="#00c83c" stroke="#000" stroke-width="1.8" stroke-linejoin="miter"/>
<text transform="translate(877.11,555.50) scale(0.9462,1)" font-size="23" fill="#111">27 H</text>
<polygon points="856.1,563.9 845.9,581.5 866.4,581.5" fill="#d4e600" stroke="#000" stroke-width="1.8" stroke-linejoin="miter"/>
<text transform="translate(876.20,580.40) scale(0.9484,1)" font-size="23" fill="#111">28 H</text>
<circle cx="965.7" cy="499.6" r="8.3" fill="#333333" stroke="#444" stroke-width="1.8"/>
<text transform="translate(980.43,505.20) scale(0.9289,1)" font-size="23" fill="#111">22 L</text>
<circle cx="965.7" cy="524.8" r="8.3" fill="#006400" stroke="#000" stroke-width="1.8"/>
<text transform="translate(981.25,530.60) scale(0.9093,1)" font-size="23" fill="#111">24.5 L</text>
<circle cx="965.7" cy="547.2" r="8.3" fill="#00c83c" stroke="#000" stroke-width="1.8"/>
<text transform="translate(981.23,555.50) scale(0.9289,1)" font-size="23" fill="#111">27 L</text>
<circle cx="965.7" cy="572.1" r="8.3" fill="#d4e600" stroke="#000" stroke-width="1.8"/>
<text transform="translate(981.23,580.40) scale(0.9289,1)" font-size="23" fill="#111">28 L</text>
</svg></body></html>
